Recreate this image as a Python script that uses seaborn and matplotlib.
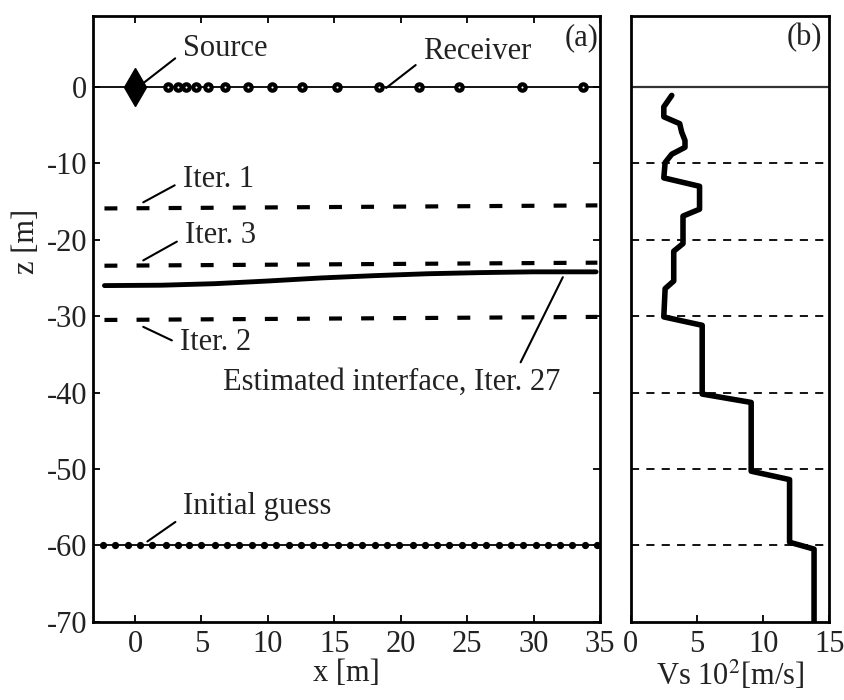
import numpy as np
import pandas as pd
import matplotlib
matplotlib.use('Agg')
import matplotlib.pyplot as plt
import seaborn as sns

# source / receivers on the surface (z = 0)
source_x = [0.0]
receiver_x = [2.5, 3.2, 3.8, 4.6, 5.5, 6.8, 8.5, 10.3, 12.6, 15.2, 18.4, 21.4, 24.4, 29.1, 33.7]

# interface depth for early iterations (left / right end)
line_x = [-2.3, 34.8]
iter1_z = [-15.9, -15.5]
iter2_z = [-30.5, -30.1]
iter3_z = [-23.4, -23.0]

# estimated interface, iter. 27
interface_x = [-2.3, 2, 6, 10, 14, 18, 22, 26, 30, 34.7]
interface_z = [-26.0, -25.95, -25.75, -25.4, -25.0, -24.7, -24.45, -24.3, -24.2, -24.2]

# initial guess nodes at z = -60
guess_x = [-2.4, -1.5, -0.5, 0.4, 1.3, 2.3, 3.2, 4.1, 5.0, 6.0, 6.9, 7.8, 8.8, 9.7,
           10.6, 11.6, 12.5, 13.4, 14.3, 15.3, 16.2, 17.1, 18.1, 19.0, 19.9, 20.9,
           21.8, 22.7, 23.6, 24.6, 25.5, 26.4, 27.4, 28.3, 29.2, 30.2, 31.1, 32.0,
           32.9, 33.9, 34.8]
guess_z = -60

# Vs profile for panel (b), units of 10^2 m/s
vs_profile = [3.1, 2.5, 2.5, 3.7, 3.85, 4.1, 4.1, 3.1, 2.6, 2.5, 5.2, 5.2, 3.95, 3.95,
              3.25, 3.25, 2.6, 2.5, 5.4, 5.4, 9.1, 9.1, 12.0, 12.0, 13.85, 13.85]
z_profile = [-1.1, -2.6, -3.9, -4.8, -5.9, -7.0, -7.9, -8.8, -9.9, -11.9, -13.0, -16.0,
             -16.9, -20.5, -21.5, -25.4, -26.4, -30.1, -31.2, -40.2, -41.3, -50.3,
             -51.4, -59.6, -60.5, -70.0]

sns.set_theme(style='ticks')
plt.rcParams['font.family'] = ['Liberation Serif', 'DejaVu Serif']
plt.rcParams['mathtext.fontset'] = 'stix'
plt.rcParams['axes.unicode_minus'] = False
plt.rcParams['axes.linewidth'] = 2.0
plt.rcParams['axes.edgecolor'] = 'black'
plt.rcParams['text.color'] = '#222222'
plt.rcParams['xtick.color'] = 'black'
plt.rcParams['ytick.color'] = 'black'
plt.rcParams['xtick.labelcolor'] = '#222222'
plt.rcParams['ytick.labelcolor'] = '#222222'
plt.rcParams['axes.labelcolor'] = '#222222'

FS = 22
fig = plt.figure(figsize=(8.45, 7), dpi=100)
axa = fig.add_axes([0.1101, 0.1119, 0.600, 0.8653])
axb = fig.add_axes([0.7464, 0.1119, 0.2350, 0.8653])

# ---- panel (a)
axa.axhline(0, color='black', lw=1.3, zorder=1)
axa.plot(receiver_x, [0] * len(receiver_x), ls='none', marker='o', ms=4.6, mew=3.0,
         mfc='white', mec='black', zorder=3)
axa.plot(source_x, [0], marker='d', ms=19, color='black', ls='none', zorder=4)

dash = (0, (3.1, 4.6))
for zz in [iter1_z, iter2_z, iter3_z]:
    sns.lineplot(x=line_x, y=zz, ax=axa, color='black', lw=3, linestyle=dash)
sns.lineplot(x=interface_x, y=interface_z, ax=axa, color='black', lw=3.5)
axa.plot(guess_x, [guess_z] * len(guess_x), color='black', lw=1.3, marker='o', ms=4.2)

arr = dict(arrowstyle='-', color='black', lw=1.5, shrinkA=4, shrinkB=0)
notes = [('Source', (0.62, 0.5), (3.6, 5.1), (0, 0.35)),
         ('Receiver', (18.9, -0.13), (21.7, 4.6), (0, 0.25)),
         ('Iter. 1', (0.62, -15.1), (3.6, -12.1), (0, 0.45)),
         ('Iter. 3', (0.62, -22.7), (3.76, -19.5), (0, 0.46)),
         ('Iter. 2', (0.62, -31.4), (3.4, -33.5), (0, 0.45)),
         ('Initial guess', (0.93, -59.5), (3.63, -54.9), (0, 0.15))]
for txt, xy, xyt, rp in notes:
    axa.annotate(txt, xy=xy, xytext=xyt, ha='left', va='center', fontsize=FS,
                 arrowprops=dict(arr, relpos=rp))
axa.annotate('Estimated interface, Iter. 27', xy=(32.2, -24.9), xytext=(6.64, -38.7),
             ha='left', va='center', fontsize=FS,
             arrowprops=dict(arr, relpos=(0.873, 1.0), shrinkA=2))

axa.set_xlim(-3.16, 35)
axa.set_ylim(-70, 9.3)
axa.set_xticks(range(0, 36, 5))
axa.set_yticks(range(-70, 1, 10))
axa.tick_params(direction='in', top=True, right=True, length=5, width=1.3, labelsize=FS)
axa.tick_params(axis='x', pad=6)
axa.tick_params(axis='y', pad=4)
axa.set_xlabel('x [m]', fontsize=FS, labelpad=0)
axa.set_ylabel('z [m]', fontsize=FS)
axa.yaxis.set_label_coords(-0.103, 0.627)
axa.text(0.997, 0.964, '(a)', transform=axa.transAxes, ha='right', va='center', fontsize=FS)

# ---- panel (b)
axb.axhline(0, color='#333333', lw=1.6, zorder=1)
sns.lineplot(x=vs_profile, y=z_profile, ax=axb, sort=False, estimator=None,
             color='black', lw=4)
axb.set_xlim(0, 15)
axb.set_ylim(-70, 9.3)
axb.set_xticks([0, 5, 10, 15])
axb.set_yticks(range(-60, -9, 10))
axb.yaxis.grid(True, linestyle=(0, (4.5, 4)), color='black', lw=1.3)
axb.tick_params(axis='y', length=0, labelleft=False)
axb.tick_params(axis='x', direction='in', length=5, width=1.3, labelsize=FS, pad=6)
axb.set_xlabel('Vs 10$^2$[m/s]', fontsize=FS, labelpad=0)
axb.text(0.962, 0.964, '(b)', transform=axb.transAxes, ha='right', va='center', fontsize=FS)

fig.savefig('out.png', dpi=100)
